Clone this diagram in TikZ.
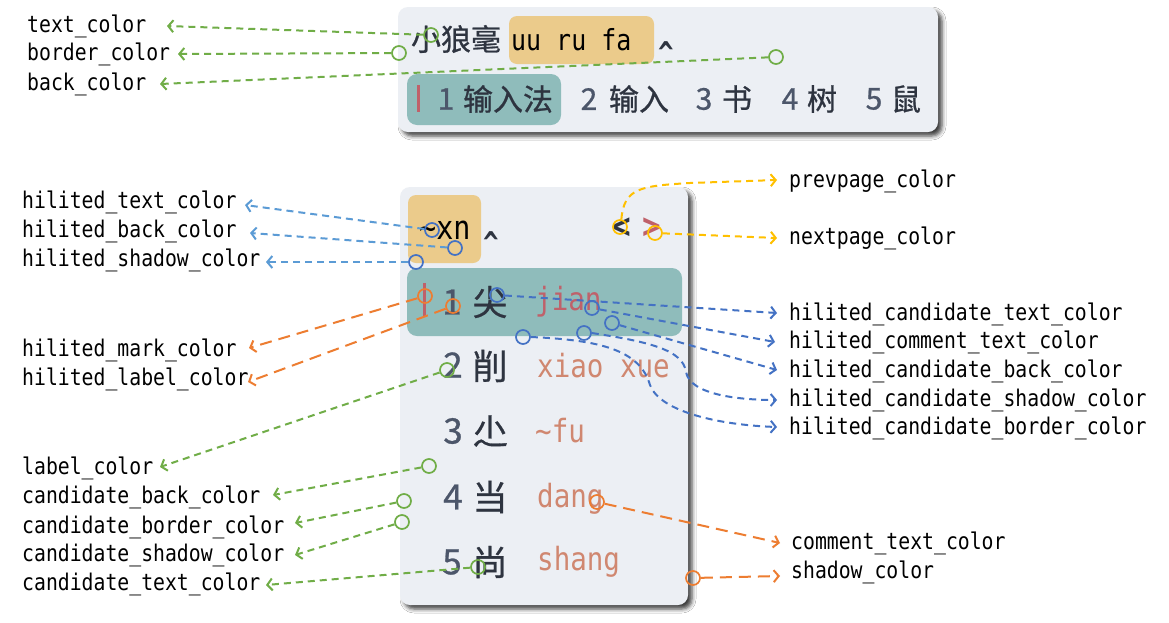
\documentclass[tikz,border=0pt]{standalone}
\usepackage{fontspec}
\usetikzlibrary{arrows.meta,shadows.blur}
\newfontfamily\cjk[FakeBold=0.8]{Noto Sans CJK SC}
\newfontfamily\monof[FakeStretch=0.86]{DejaVu Sans Mono}
\definecolor{panelbg}{HTML}{ECEFF4}
\definecolor{hlback}{HTML}{EBCB8B}
\definecolor{candhl}{HTML}{8FBCBB}
\definecolor{nred}{HTML}{BF616A}
\definecolor{ncomment}{HTML}{D08770}
\definecolor{ntext}{HTML}{2E3440}
\definecolor{nlabel}{HTML}{4C566A}
\definecolor{cgreen}{HTML}{70AD47}
\definecolor{cblue}{HTML}{5B9BD5}
\definecolor{cdblue}{HTML}{4472C4}
\definecolor{corange}{HTML}{ED7D31}
\definecolor{cyellow}{HTML}{FFC000}
\tikzset{
  panelbox/.style={fill=panelbg, rounded corners=10pt,
    blur shadow={shadow xshift=4pt, shadow yshift=-4pt, shadow blur radius=4pt, shadow opacity=75}},
  hlbox/.style={fill=hlback, rounded corners=8pt},
  candbox/.style={fill=candhl, rounded corners=10pt},
  keytext/.style={font=\monof\fontsize{23}{23}\selectfont, anchor=west, inner sep=0pt, text=black},
  hz/.style={font=\cjk\fontsize{#1}{#1}\selectfont, inner sep=0pt, text=ntext},
  dg/.style={font=\cjk\fontsize{#1}{#1}\selectfont, inner sep=0pt, text=nlabel},
  mono/.style={font=\monof\fontsize{#1}{#1}\selectfont, inner sep=0pt, text=ntext},
  monob/.style={font=\monof\bfseries\fontsize{#1}{#1}\selectfont, inner sep=0pt, text=ntext},
  ring/.style={circle, draw=#1, line width=1.7pt, minimum size=14pt, inner sep=0pt},
  conn/.style={draw=#1, line width=2pt, dash pattern=on 7pt off 5pt,
    -{Straight Barb[length=5pt,width=12pt]}},
  lconn/.style={draw=#1, line width=2pt, dash pattern=on 12pt off 7pt,
    -{Straight Barb[length=5pt,width=12pt]}},
}
\begin{document}
\begin{tikzpicture}[x=1pt,y=-1pt]
\useasboundingbox[fill=white] (0,0) rectangle (1169,622);

% ---------- top panel ----------
\path[panelbox] (398,7) rectangle (938,132);
\path[hlbox] (509,16) rectangle (654,64);
\path[candbox] (407,74) rectangle (561,125);
\path[fill=nred] (417,85) rectangle (420,112);
\node[hz=30] (pre) at (456,39) {小狼毫};
\node[mono=29, anchor=west, text=black] (prein) at (511,40) {uu ru fa};
\node[monob=30] (caret1) at (666,53) {\textasciicircum};
\node[dg=30] (t1) at (446,99) {1};
\node[hz=30] (w1) at (508,99) {输入法};
\node[dg=30] (t2) at (589,99) {2};
\node[hz=30] (w2) at (639,99) {输入};
\node[dg=30] (t3) at (704,99) {3};
\node[hz=30] (w3) at (737,99) {书};
\node[dg=30] (t4) at (790,99) {4};
\node[hz=30] (w4) at (822,99) {树};
\node[dg=30] (t5) at (874,99) {5};
\node[hz=30] (w5) at (906,99) {鼠};

% ---------- bottom panel ----------
\path[panelbox] (400,187) rectangle (688,605);
\path[hlbox] (408,195) rectangle (481,263);
\path[candbox] (407,268) rectangle (682,336);
\path[fill=nred] (423,283) rectangle (426,316);
\node[mono=33, anchor=west, text=black] (pre2) at (419,230) {\textasciitilde xn};
\node[monob=30] (caret2) at (491,243) {\textasciicircum};
\node[monob=36] (prevp) at (622,228) {\textless};
\node[monob=36, text=nred] (nextp) at (652,228) {\textgreater};

\node[dg=35] (n1) at (452,302) {1};
\node[hz=35] (h1) at (490,302) {尖};
\node[mono=32, anchor=west, text=nred] (m1) at (535,302) {jian};
\node[dg=35] (n2) at (453,365) {2};
\node[hz=35] (h2) at (490,366) {削};
\node[mono=32, anchor=west, text=ncomment] (m2) at (537,366) {xiao xue};
\node[dg=35] (n3) at (453,431) {3};
\node[hz=35] (h3) at (490,431) {尐};
\node[mono=32, anchor=west, text=ncomment] (m3) at (535,431) {\textasciitilde fu};
\node[dg=35] (n4) at (453,497) {4};
\node[hz=35] (h4) at (490,497) {当};
\node[mono=32, anchor=west, text=ncomment] (m4) at (537,499) {dang};
\node[dg=35] (n5) at (452,562) {5};
\node[hz=35] (h5) at (490,562) {尚};
\node[mono=32, anchor=west, text=ncomment] (m5) at (537,562) {shang};

% ---------- labels ----------
\node[keytext] (l1) at (27,26) {text\_color};
\node[keytext] (l2) at (27,54) {border\_color};
\node[keytext] (l3) at (27,84) {back\_color};
\node[keytext] (l4) at (22,202) {hilited\_text\_color};
\node[keytext] (l5) at (22,231) {hilited\_back\_color};
\node[keytext] (l6) at (22,260) {hilited\_shadow\_color};
\node[keytext] (l7) at (22,350) {hilited\_mark\_color};
\node[keytext] (l8) at (22,379) {hilited\_label\_color};
\node[keytext] (l9) at (22,468) {label\_color};
\node[keytext] (l10) at (22,497) {candidate\_back\_color};
\node[keytext] (l11) at (22,527) {candidate\_border\_color};
\node[keytext] (l12) at (22,555) {candidate\_shadow\_color};
\node[keytext] (l13) at (22,584) {candidate\_text\_color};
\node[keytext] (l14) at (789,181) {prevpage\_color};
\node[keytext] (l15) at (789,238) {nextpage\_color};
\node[keytext] (l16) at (789,314) {hilited\_candidate\_text\_color};
\node[keytext] (l17) at (789,342) {hilited\_comment\_text\_color};
\node[keytext] (l18) at (789,371) {hilited\_candidate\_back\_color};
\node[keytext] (l19) at (789,400) {hilited\_candidate\_shadow\_color};
\node[keytext] (l20) at (789,428) {hilited\_candidate\_border\_color};
\node[keytext] (l21) at (791,543) {comment\_text\_color};
\node[keytext] (l22) at (791,572) {shadow\_color};

% ---------- arrow end points ----------
\coordinate (a1) at (167,26);
\coordinate (a2) at (178,54);
\coordinate (a3) at (160,84);
\coordinate (a4) at (245,205);
\coordinate (a5) at (250,233);
\coordinate (a6) at (266,262);
\coordinate (a7) at (249,348);
\coordinate (a8) at (248,382);
\coordinate (a9) at (160,467);
\coordinate (a10) at (273,495);
\coordinate (a11) at (295,523);
\coordinate (a12) at (295,555);
\coordinate (a13) at (266,585);
\coordinate (a14) at (777,180);
\coordinate (a15) at (777,238);
\coordinate (a16) at (777,313);
\coordinate (a17) at (775,342);
\coordinate (a18) at (777,370);
\coordinate (a19) at (777,400);
\coordinate (a20) at (777,427);
\coordinate (a21) at (780,543);
\coordinate (a22) at (780,576);

% ---------- markers ----------
\node[ring=cgreen] (c1) at (431,35) {};
\node[ring=cgreen] (c2) at (399,53) {};
\node[ring=cgreen] (c3) at (776,57) {};
\node[ring=cdblue] (c4) at (432,230) {};
\node[ring=cdblue] (c5) at (455,248) {};
\node[ring=cdblue] (c6) at (416,262) {};
\node[ring=corange] (c7) at (425,296) {};
\node[ring=corange] (c8) at (453,306) {};
\node[ring=cgreen] (c9) at (447,370) {};
\node[ring=cgreen] (c10) at (429,466) {};
\node[ring=cgreen] (c11) at (404,501) {};
\node[ring=cgreen] (c12) at (402,522) {};
\node[ring=cgreen] (c13) at (478,567) {};
\node[ring=cyellow] (c14) at (620,227) {};
\node[ring=cyellow] (c15) at (655,233) {};
\node[ring=cdblue] (c16) at (497,295) {};
\node[ring=cdblue] (c17) at (592,308) {};
\node[ring=cdblue] (c18) at (612,323) {};
\node[ring=cdblue] (c19) at (584,333) {};
\node[ring=cdblue] (c20) at (523,337) {};
\node[ring=corange] (c21) at (597,502) {};
\node[ring=corange] (c22) at (693,578) {};

% ---------- connectors ----------
\draw[conn=cgreen] (c1) -- (a1);
\draw[conn=cgreen] (c2) -- (a2);
\draw[conn=cgreen] (c3) -- (a3);
\draw[conn=cblue] (c4) -- (a4);
\draw[conn=cblue] (c5) -- (a5);
\draw[conn=cblue] (c6) -- (a6);
\draw[lconn=corange] (c7) -- (a7);
\draw[lconn=corange] (c8) -- (a8);
\draw[conn=cgreen] (c9) -- (a9);
\draw[conn=cgreen] (c10) -- (a10);
\draw[conn=cgreen] (c11) -- (a11);
\draw[conn=cgreen] (c12) -- (a12);
\draw[conn=cgreen] (c13) -- (a13);
\draw[conn=cyellow] (c14.80) .. controls (624,188) and (640,186) .. (690,183) -- (a14);
\draw[conn=cyellow] (c15) -- (a15);
\draw[conn=cdblue] (c16) -- (a16);
\draw[conn=cdblue] (c17) -- (a17);
\draw[conn=cdblue] (c18) -- (a18);
\draw[conn=cdblue] (c19.east) .. controls (650,342) and (683,350) .. (686,372) .. controls (690,395) and (740,400) .. (a19);
\draw[conn=cdblue] (c20.east) .. controls (600,340) and (640,350) .. (650,385) .. controls (660,412) and (720,425) .. (a20);
\draw[lconn=corange] (c21) -- (a21);
\draw[lconn=corange] (c22) -- (a22);
\end{tikzpicture}
\end{document}
